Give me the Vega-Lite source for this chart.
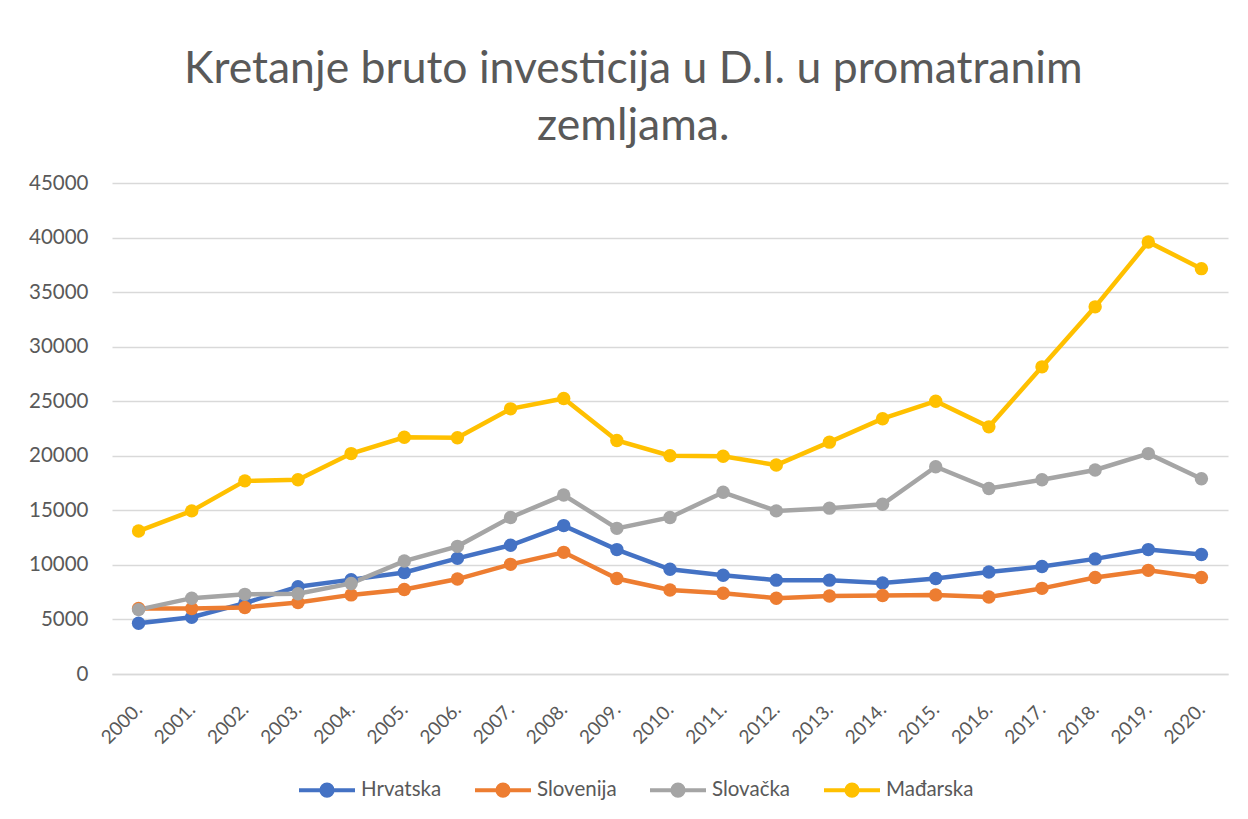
{
  "$schema": "https://vega.github.io/schema/vega-lite/v6.json",
  "autosize": {"type": "none"},
  "width": 1116,
  "height": 491,
  "padding": {"left": 112, "top": 183, "right": 20, "bottom": 145},
  "background": "white",
  "title": {
    "text": ["Kretanje bruto investicija u D.I. u promatranim", "zemljama."],
    "font": "Lato",
    "fontSize": 44.5,
    "fontWeight": "normal",
    "color": "#595959",
    "lineHeight": 57,
    "anchor": "middle",
    "frame": "bounds",
    "dx": 5,
    "offset": 24
  },
  "data": {
    "values": [
      {"Godina": "2000.", "Hrvatska": 4650, "Slovenija": 6000, "Slovačka": 5900, "Mađarska": 13100},
      {"Godina": "2001.", "Hrvatska": 5200, "Slovenija": 6000, "Slovačka": 6950, "Mađarska": 14950},
      {"Godina": "2002.", "Hrvatska": 6500, "Slovenija": 6100, "Slovačka": 7300, "Mađarska": 17700},
      {"Godina": "2003.", "Hrvatska": 8000, "Slovenija": 6550, "Slovačka": 7350, "Mađarska": 17800},
      {"Godina": "2004.", "Hrvatska": 8650, "Slovenija": 7250, "Slovačka": 8300, "Mađarska": 20200},
      {"Godina": "2005.", "Hrvatska": 9300, "Slovenija": 7750, "Slovačka": 10350, "Mađarska": 21700},
      {"Godina": "2006.", "Hrvatska": 10600, "Slovenija": 8700, "Slovačka": 11700, "Mađarska": 21650},
      {"Godina": "2007.", "Hrvatska": 11800, "Slovenija": 10050, "Slovačka": 14350, "Mađarska": 24300},
      {"Godina": "2008.", "Hrvatska": 13600, "Slovenija": 11150, "Slovačka": 16400, "Mađarska": 25250},
      {"Godina": "2009.", "Hrvatska": 11400, "Slovenija": 8750, "Slovačka": 13350, "Mađarska": 21400},
      {"Godina": "2010.", "Hrvatska": 9600, "Slovenija": 7700, "Slovačka": 14350, "Mađarska": 20000},
      {"Godina": "2011.", "Hrvatska": 9050, "Slovenija": 7400, "Slovačka": 16650, "Mađarska": 19950},
      {"Godina": "2012.", "Hrvatska": 8600, "Slovenija": 6950, "Slovačka": 14950, "Mađarska": 19150},
      {"Godina": "2013.", "Hrvatska": 8600, "Slovenija": 7150, "Slovačka": 15200, "Mađarska": 21250},
      {"Godina": "2014.", "Hrvatska": 8350, "Slovenija": 7200, "Slovačka": 15550, "Mađarska": 23400},
      {"Godina": "2015.", "Hrvatska": 8750, "Slovenija": 7250, "Slovačka": 19000, "Mađarska": 25000},
      {"Godina": "2016.", "Hrvatska": 9350, "Slovenija": 7050, "Slovačka": 17000, "Mađarska": 22650},
      {"Godina": "2017.", "Hrvatska": 9850, "Slovenija": 7850, "Slovačka": 17800, "Mađarska": 28150},
      {"Godina": "2018.", "Hrvatska": 10550, "Slovenija": 8850, "Slovačka": 18700, "Mađarska": 33650},
      {"Godina": "2019.", "Hrvatska": 11400, "Slovenija": 9500, "Slovačka": 20200, "Mađarska": 39600},
      {"Godina": "2020.", "Hrvatska": 10950, "Slovenija": 8850, "Slovačka": 17900, "Mađarska": 37150}
    ]
  },
  "transform": [
    {"fold": ["Hrvatska", "Slovenija", "Slovačka", "Mađarska"], "as": ["Zemlja", "Vrijednost"]}
  ],
  "mark": {"type": "line", "strokeWidth": 4.5, "point": {"filled": true, "size": 180, "opacity": 1}},
  "encoding": {
    "x": {
      "field": "Godina",
      "type": "ordinal",
      "scale": {"type": "point", "padding": 0.5},
      "axis": {
        "title": null,
        "labelAngle": -45,
        "labelAlign": "right",
        "labelBaseline": "middle",
        "labelFont": "Lato",
        "labelFontSize": 19,
        "labelColor": "#595959",
        "labelPadding": 32,
        "ticks": false,
        "domainColor": "#d9d9d9",
        "domainWidth": 1.5,
        "grid": false
      }
    },
    "y": {
      "field": "Vrijednost",
      "type": "quantitative",
      "scale": {"domain": [0, 45000], "nice": false},
      "axis": {
        "title": null,
        "values": [0, 5000, 10000, 15000, 20000, 25000, 30000, 35000, 40000, 45000],
        "format": "d",
        "labelFont": "Lato",
        "labelFontSize": 20.5,
        "labelColor": "#595959",
        "labelPadding": 24,
        "ticks": false,
        "domain": false,
        "gridColor": "#d9d9d9",
        "gridWidth": 1.5
      }
    },
    "color": {
      "field": "Zemlja",
      "type": "nominal",
      "scale": {
        "domain": ["Hrvatska", "Slovenija", "Slovačka", "Mađarska"],
        "range": ["#4472C4", "#ED7D31", "#A5A5A5", "#FFC000"]
      },
      "legend": {
        "title": null,
        "orient": "none",
        "legendX": 185,
        "legendY": 577,
        "direction": "horizontal",
        "labelFont": "Lato",
        "labelFontSize": 20.5,
        "labelColor": "#595959",
        "labelOffset": 4,
        "symbolType": "M-1,0L1,0M-0.2,0A0.2,0.2 0 1,0 0.2,0A0.2,0.2 0 1,0 -0.2,0M-0.13,0A0.13,0.13 0 1,0 0.13,0A0.13,0.13 0 1,0 -0.13,0M-0.05,0A0.05,0.05 0 1,0 0.05,0A0.05,0.05 0 1,0 -0.05,0",
        "symbolSize": 3136,
        "symbolStrokeWidth": 4,
        "columnPadding": 25
      }
    }
  },
  "config": {
    "view": {"stroke": null}
  }
}
